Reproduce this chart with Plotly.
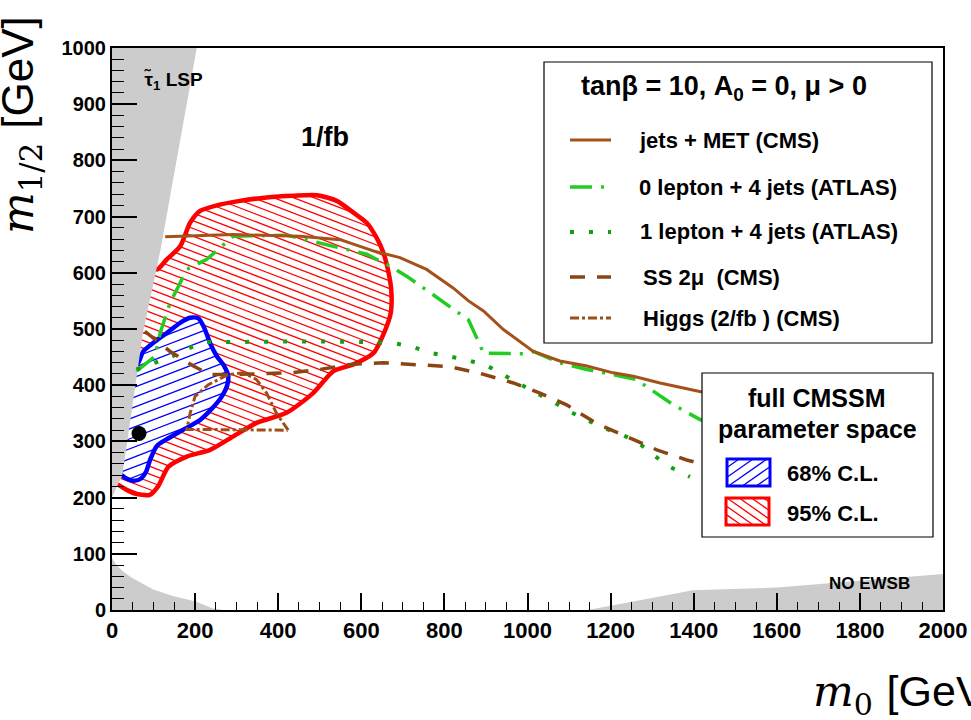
import math
import plotly.graph_objects as go

# ---------------- canvas / frame geometry ----------------
FIG_W, FIG_H = 971, 720
M_L, M_R, M_T, M_B = 112, 28, 48, 110
PW = FIG_W - M_L - M_R
PH = FIG_H - M_T - M_B

X_RANGE = [0, 2000]
Y_RANGE = [0, 1000]
SX = PW / (X_RANGE[1] - X_RANGE[0])
SY = PH / (Y_RANGE[1] - Y_RANGE[0])

# ---------------- theoretically excluded regions ----------------
stau_lsp_x = [0, 204, 116, 75, 25, 0]
stau_lsp_y = [1000, 1000, 638, 495, 240, 200]

no_ewsb_low_x = [0, 0, 11, 27, 47, 98, 146, 202, 241, 269]
no_ewsb_low_y = [0, 92, 80, 68, 58, 37, 25, 15, 3, 0]

no_ewsb_x = [1145, 1398, 1600, 2000, 2000]
no_ewsb_y = [0, 35, 40, 64, 0]

# ---------------- CMSSM fit contours ----------------
cl95_x = [80, 108, 132, 164, 188, 212, 252, 308, 372, 436, 493, 541, 581, 613, 637,
          653, 664, 672, 671, 658, 629, 581, 533, 484, 420, 348, 292, 236, 180, 136,
          111, 91, 51, 7, 0, 0, 60]
cl95_y = [624, 606, 624, 647, 689, 710, 720, 728, 734, 737, 738, 728, 707, 689, 662,
          636, 606, 570, 529, 499, 457, 437, 425, 386, 351, 333, 309, 285, 273, 255,
          220, 205, 208, 228, 240, 300, 564]

cl68_x = [188, 208, 222, 236, 252, 270, 280, 277, 266, 244, 212, 172, 132, 108, 92,
          82, 70, 52, 30, 12, 30, 63, 75, 99, 132, 164]
cl68_y = [520, 519, 502, 475, 452, 434, 416, 399, 382, 361, 338, 321, 304, 292, 268,
          246, 234, 230, 236, 254, 424, 440, 460, 475, 493, 511]

best_fit_x = [65]
best_fit_y = [314]

# ---------------- experimental limits ----------------
jets_met_x = [128, 292, 452, 549, 629, 693, 757, 821, 858, 894, 942, 1014, 1078, 1143,
              1206, 1255, 1319, 1420]
jets_met_y = [664, 668, 665, 659, 639, 627, 606, 573, 550, 532, 499, 460, 443, 434,
              422, 416, 404, 388]

zero_lep_x = [59, 103, 116, 140, 160, 180, 228, 292, 420, 484, 549, 613, 669, 709, 773,
              829, 858, 886, 894, 998, 1014, 1078, 1143, 1206, 1262, 1351, 1420]
zero_lep_y = [425, 451, 493, 547, 576, 606, 624, 665, 667, 656, 645, 633, 612, 594, 561,
              532, 516, 471, 457, 456, 460, 440, 428, 419, 410, 365, 337]

one_lep_x = [59, 103, 144, 186, 224, 316, 452, 600, 677, 725, 769, 813, 858, 902, 942,
             982, 1062, 1102, 1143, 1187, 1227, 1263, 1303, 1339, 1391]
one_lep_y = [428, 440, 451, 466, 477, 477, 478, 477, 475, 468, 457, 451, 444, 435, 418,
             402, 370, 353, 338, 323, 312, 300, 276, 256, 237]

ss2mu_x = [79, 140, 196, 236, 292, 360, 428, 500, 573, 653, 741, 813, 886, 966, 1030,
           1094, 1166, 1238, 1311, 1383, 1410]
ss2mu_y = [496, 460, 434, 419, 419, 421, 422, 428, 437, 440, 436, 433, 421, 404, 386,
           365, 332, 309, 285, 267, 262]

higgs_x = [424, 396, 372, 348, 316, 280, 232, 200, 188, 180, 250, 340, 424]
higgs_y = [320, 350, 386, 410, 422, 419, 401, 380, 350, 321, 321, 321, 320]

limit_labels = ["jets + MET (CMS)", "0 lepton + 4 jets (ATLAS)", "1 lepton + 4 jets (ATLAS)",
                "SS 2μ&nbsp; (CMS)", "Higgs (2/fb ) (CMS)"]
cl_labels = ["68% C.L.", "95% C.L."]

# ---------------- styles ----------------
GRAY = "#cccccc"
RED = "#ff0000"
BLUE = "#0000ff"
C_JETS = "#a5521a"
C_SS = "#8b4513"
C_HIGGS = "#9c4f17"
C_ZERO = "#22cc22"
C_ONE = "#11a011"

styles = [
    dict(color=C_JETS, width=3, dash="solid"),
    dict(color=C_ZERO, width=3.5, dash="22px,9px,3px,9px"),
    dict(color=C_ONE, width=4, dash="4px,15px"),
    dict(color=C_SS, width=3.5, dash="15px,12px"),
    dict(color=C_HIGGS, width=3, dash="9px,3px,3px,3px"),
]

BOLD = "Liberation Sans"
SERIF = "DejaVu Serif"


def hatch_lines(xs, ys, kx, ky, angle_deg, spacing):
    """Parallel hatch segments clipped to a polygon; angle/spacing in screen pixels."""
    a = math.radians(angle_deg)
    ca, sa = math.cos(a), math.sin(a)
    u = [x * kx for x in xs]
    v = [y * ky for y in ys]
    ru = [ui * ca + vi * sa for ui, vi in zip(u, v)]
    rv = [-ui * sa + vi * ca for ui, vi in zip(u, v)]
    n = len(ru)
    out_x, out_y = [], []
    c = math.floor(min(rv) / spacing) * spacing + spacing / 2
    while c < max(rv):
        hits = []
        for i in range(n):
            j = (i + 1) % n
            v1, v2 = rv[i], rv[j]
            if (v1 <= c < v2) or (v2 <= c < v1):
                t = (c - v1) / (v2 - v1)
                hits.append(ru[i] + t * (ru[j] - ru[i]))
        hits.sort()
        for k in range(0, len(hits) - 1, 2):
            for h in (hits[k], hits[k + 1]):
                out_x.append((h * ca - c * sa) / kx)
                out_y.append((h * sa + c * ca) / ky)
            out_x.append(None)
            out_y.append(None)
        c += spacing
    return out_x, out_y


def closed(seq):
    return list(seq) + [seq[0]]


fig = go.Figure()
common = dict(hoverinfo="skip", showlegend=False)

# low-m0 and high-m0 regions without electroweak symmetry breaking
for gx, gy in [(no_ewsb_low_x, no_ewsb_low_y), (no_ewsb_x, no_ewsb_y)]:
    fig.add_trace(go.Scatter(x=gx, y=gy, mode="lines", fill="toself", fillcolor=GRAY,
                             line=dict(width=0), **common))

# 95% C.L. region
hx, hy = hatch_lines(cl95_x, cl95_y, SX, SY, -21, 7.2)
fig.add_trace(go.Scatter(x=hx, y=hy, mode="lines", line=dict(color=RED, width=1.3), **common))
fig.add_trace(go.Scatter(x=closed(cl95_x), y=closed(cl95_y), mode="lines",
                         line=dict(color=RED, width=4.5, shape="spline", smoothing=0.7), **common))

# 68% C.L. region
fig.add_trace(go.Scatter(x=cl68_x, y=cl68_y, mode="lines", fill="toself", fillcolor="white",
                         line=dict(width=0), **common))
hx, hy = hatch_lines(cl68_x, cl68_y, SX, SY, 21, 9.3)
fig.add_trace(go.Scatter(x=hx, y=hy, mode="lines", line=dict(color=BLUE, width=1.3), **common))
fig.add_trace(go.Scatter(x=closed(cl68_x), y=closed(cl68_y), mode="lines",
                         line=dict(color=BLUE, width=4.5, shape="spline", smoothing=0.7), **common))

# stau LSP wedge
fig.add_trace(go.Scatter(x=stau_lsp_x, y=stau_lsp_y, mode="lines", fill="toself", fillcolor=GRAY,
                         line=dict(width=0), **common))

# experimental limits
curves = [(zero_lep_x, zero_lep_y, styles[1]), (one_lep_x, one_lep_y, styles[2]),
          (jets_met_x, jets_met_y, styles[0]), (ss2mu_x, ss2mu_y, styles[3]),
          (higgs_x, higgs_y, styles[4])]
for cx, cy, st in curves:
    fig.add_trace(go.Scatter(x=cx, y=cy, mode="lines", line=st, **common))

# best-fit point
fig.add_trace(go.Scatter(x=best_fit_x, y=best_fit_y, mode="markers",
                         marker=dict(color="black", size=15), **common))


# ---------------- legends (paper coordinates) ----------------
def pp(px, py):
    return (px - M_L) / PW, (FIG_H - M_B - py) / PH


shapes = []
annotations = []


def box(x0, y0, x1, y1, color="black", width=1.2):
    a0, b0 = pp(x0, y1)
    a1, b1 = pp(x1, y0)
    shapes.append(dict(type="rect", xref="paper", yref="paper", x0=a0, y0=b0, x1=a1, y1=b1,
                       fillcolor="white", line=dict(color=color, width=width), layer="above"))


def text(px, py, s, size, anchor="left", family=BOLD, bold=True, **kw):
    a, b = pp(px, py)
    annotations.append(dict(xref="paper", yref="paper", x=a, y=b, text=s, showarrow=False,
                            xanchor=anchor, yanchor="middle",
                            font=dict(family=family, size=size, color="black",
                                      weight="bold" if bold else "normal"), **kw))


# limits legend
box(544, 62, 932, 343)
text(724, 88, "tanβ = 10, A<sub>0</sub> = 0, μ &gt; 0", 27, anchor="center")
entry_y = [140, 187, 232, 277, 318]
entry_tx = [637, 637, 638, 641, 641]
for st, yy, tx, lab in zip(styles, entry_y, entry_tx, limit_labels):
    a0, b = pp(570, yy)
    a1, _ = pp(611, yy)
    shapes.append(dict(type="line", xref="paper", yref="paper", x0=a0, x1=a1, y0=b, y1=b,
                       line=dict(color=st["color"], width=st["width"], dash=st["dash"]),
                       layer="above"))
    text(tx, yy, lab, 22)

# contour legend
box(702, 373, 933, 537)
text(817, 398, "full CMSSM", 25, anchor="center")
text(817, 429, "parameter space", 25, anchor="center")
for (x0, y0, x1, y1), col, ang, sp, lab, ly in [
        ((727, 459, 770, 486), BLUE, 35, 8, cl_labels[0], 473),
        ((726, 498, 769, 525), RED, -35, 7, cl_labels[1], 513)]:
    box(x0, y0, x1, y1, color=col, width=3)
    rx = [x0, x1, x1, x0]
    ry = [y0, y0, y1, y1]
    pxs = [pp(a, b)[0] for a, b in zip(rx, ry)]
    pys = [pp(a, b)[1] for a, b in zip(rx, ry)]
    lx, lyy = hatch_lines(pxs, pys, PW, PH, ang, sp)
    for k in range(0, len(lx), 3):
        shapes.append(dict(type="line", xref="paper", yref="paper",
                           x0=lx[k], y0=lyy[k], x1=lx[k + 1], y1=lyy[k + 1],
                           line=dict(color=col, width=1.3), layer="above"))
    text(785, ly, lab, 22)

# in-frame labels
annotations.append(dict(x=513, y=842, text="1/fb", showarrow=False, xanchor="center",
                        yanchor="middle", font=dict(family=BOLD, size=27, weight="bold", color="black")))
annotations.append(dict(x=72, y=943, text="τ\u0303<sub>1</sub> LSP", showarrow=False,
                        xanchor="left", yanchor="middle",
                        font=dict(family=BOLD, size=19, weight="bold", color="black")))
annotations.append(dict(x=1822, y=48, text="NO EWSB", showarrow=False, xanchor="center",
                        yanchor="middle", font=dict(family=BOLD, size=17, weight="bold", color="black")))

# axis titles
ax, ay = pp(21, 125)
annotations.append(dict(xref="paper", yref="paper", x=ax, y=ay, textangle=-90, showarrow=False,
                        xanchor="center", yanchor="middle",
                        text="<i>m</i><sub>1/2</sub> <span style=\"font-family:Liberation Sans\">[GeV]</span>",
                        font=dict(family=SERIF, size=44, color="black")))
ax, ay = pp(811, 694)
annotations.append(dict(xref="paper", yref="paper", x=ax, y=ay, showarrow=False,
                        xanchor="left", yanchor="middle",
                        text="<i>m</i><sub>0</sub> <span style=\"font-family:Liberation Sans\">[GeV]</span>",
                        font=dict(family=SERIF, size=43, color="black")))

axis_common = dict(showgrid=False, zeroline=False, showline=True, linecolor="black", linewidth=2,
                   mirror=True, ticks="inside", tickcolor="black", tickwidth=1.5,
                   automargin=False)

fig.update_layout(
    width=FIG_W, height=FIG_H,
    margin=dict(l=M_L, r=M_R, t=M_T, b=M_B, pad=0, autoexpand=False),
    paper_bgcolor="white", plot_bgcolor="white", showlegend=False,
    shapes=shapes, annotations=annotations,
    xaxis=dict(range=X_RANGE, tick0=0, dtick=200, ticklen=17,
               tickfont=dict(family="Liberation Sans Narrow, Liberation Sans", size=22,
                             weight="bold", color="black"),
               minor=dict(tick0=0, dtick=50, ticks="inside", ticklen=8, tickwidth=1.2,
                          tickcolor="black", showgrid=False),
               **axis_common),
    yaxis=dict(range=Y_RANGE, tick0=0, dtick=100, ticklen=25,
               tickfont=dict(family=BOLD, size=20, weight="bold", color="black"),
               minor=dict(tick0=0, dtick=20, ticks="inside", ticklen=12, tickwidth=1.2,
                          tickcolor="black", showgrid=False),
               **axis_common),
)

fig.write_html("out.html")
